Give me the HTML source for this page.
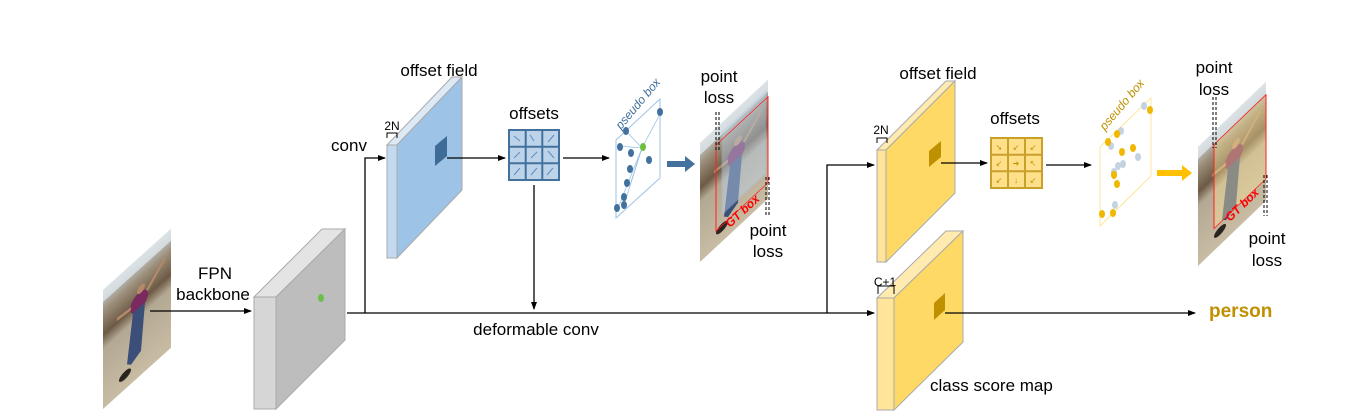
<!DOCTYPE html>
<html><head><meta charset="utf-8"><style>
html,body{margin:0;padding:0;background:#fff;}
svg{display:block;}
text{font-family:"Liberation Sans",sans-serif;}
</style></head><body>
<svg width="1367" height="419" viewBox="0 0 1367 419" xmlns="http://www.w3.org/2000/svg">
<defs>
<marker id="ah" markerWidth="8" markerHeight="8" refX="7" refY="4" orient="auto" markerUnits="userSpaceOnUse">
<path d="M0,1 L8,4 L0,7 z" fill="#000"/></marker>
<linearGradient id="sky" x1="0" y1="0" x2="0" y2="1">
<stop offset="0" stop-color="#c9d3dc"/><stop offset="0.18" stop-color="#9c8f7a"/>
<stop offset="0.38" stop-color="#6d5a45"/><stop offset="0.5" stop-color="#b3a893"/>
<stop offset="1" stop-color="#c8bca4"/></linearGradient>
<g id="photo">
<rect x="0" y="0" width="68" height="119" fill="url(#sky)"/>
<rect x="0" y="0" width="68" height="12" fill="#dfe6ea" opacity="0.8"/>
<ellipse cx="36" cy="44" rx="9" ry="9" fill="#7a2a5e"/>
<path d="M30,50 L42,50 L38,95 L28,100 L24,96 Z" fill="#3c4f78"/>
<circle cx="38" cy="33" r="4" fill="#b58a6a"/>
<path d="M44,40 L62,24" stroke="#b58a6a" stroke-width="3"/>
<path d="M28,44 L14,42" stroke="#b58a6a" stroke-width="3"/>
<ellipse cx="22" cy="105" rx="6" ry="4" fill="#2a2420"/>
</g>
</defs>

<!-- input photo -->
<use href="#photo" transform="matrix(1,-0.9,0,1,103,290)"/>

<!-- gray backbone box -->
<polygon points="254,297 322,229 345,229 276,297" fill="#e4e4e4" stroke="#aaa" stroke-width="1"/>
<polygon points="276,297 345,229 345,340 276,409" fill="#bdbdbd" stroke="#aaa" stroke-width="1"/>
<rect x="254" y="297" width="22" height="112" fill="#d6d6d6" stroke="#aaa" stroke-width="1"/>
<ellipse cx="321" cy="298" rx="3" ry="4" fill="#6cc04a"/>

<text x="215" y="279" font-size="17" text-anchor="middle">FPN</text>
<text x="213" y="300" font-size="17" text-anchor="middle">backbone</text>
<line x1="150" y1="311" x2="251" y2="311" stroke="#000" stroke-width="1.3" marker-end="url(#ah)"/>

<!-- main lines -->
<line x1="347" y1="313" x2="874" y2="313" stroke="#000" stroke-width="1.3" marker-end="url(#ah)"/>
<polyline points="365,313 365,158 385,158" fill="none" stroke="#000" stroke-width="1.3" marker-end="url(#ah)"/>
<text x="349" y="151" font-size="17" text-anchor="middle">conv</text>
<text x="536" y="335" font-size="17" text-anchor="middle">deformable conv</text>

<!-- blue offset field -->
<polygon points="387,145 452,77 462,77 397,145" fill="#dde9f5" stroke="#aaa" stroke-width="1"/>
<polygon points="397,145 462,77 462,190 397,258" fill="#9dc3e6" stroke="#aaa" stroke-width="1"/>
<rect x="387" y="145" width="10" height="113" fill="#c3d9ef" stroke="#aaa" stroke-width="1"/>
<polygon points="435,146 447,136 447,156 435,166" fill="#3f6b97"/>
<text x="439" y="76" font-size="17" text-anchor="middle">offset field</text>
<text x="392" y="130" font-size="12" text-anchor="middle">2N</text>
<polyline points="387,138 387,133 397,133 397,138" fill="none" stroke="#000" stroke-width="1"/>
<line x1="447" y1="158" x2="505" y2="158" stroke="#000" stroke-width="1.3" marker-end="url(#ah)"/>

<!-- blue offsets grid -->
<text x="534" y="119" font-size="17" text-anchor="middle">offsets</text>
<g stroke="#41719c" stroke-width="2" fill="#bcd3ea">
<rect x="509" y="130" width="50" height="50"/>
<line x1="525.7" y1="130" x2="525.7" y2="180"/><line x1="542.3" y1="130" x2="542.3" y2="180"/>
<line x1="509" y1="146.7" x2="559" y2="146.7"/><line x1="509" y1="163.3" x2="559" y2="163.3"/>
</g>
<g stroke="#5b8ec2" stroke-width="1">
<line x1="520" y1="141" x2="514" y2="136"/><line x1="534" y1="141" x2="530" y2="135"/><line x1="548" y1="142" x2="554" y2="135"/>
<line x1="520" y1="152" x2="514" y2="158"/><line x1="537" y1="152" x2="531" y2="158"/><line x1="548" y1="151" x2="554" y2="158"/>
<line x1="520" y1="168" x2="514" y2="175"/><line x1="537" y1="168" x2="531" y2="175"/><line x1="553" y1="168" x2="547" y2="175"/>
</g>
<line x1="534" y1="185" x2="534" y2="309" stroke="#000" stroke-width="1.3" marker-end="url(#ah)"/>
<line x1="563" y1="158" x2="609" y2="158" stroke="#000" stroke-width="1.3" marker-end="url(#ah)"/>

<!-- blue pseudo box -->
<polygon points="616,140 660,99 660,178 616,218" fill="none" stroke="#9dc3e6" stroke-width="1"/>
<text x="0" y="0" font-size="12" font-style="italic" fill="#41719c" transform="translate(621,130) rotate(-50)">pseudo box</text>
<g stroke="#9dc3e6" stroke-width="0.8">
<line x1="642" y1="148" x2="660" y2="114"/><line x1="642" y1="148" x2="626" y2="131"/><line x1="642" y1="148" x2="620" y2="146"/>
<line x1="642" y1="148" x2="618" y2="208"/><line x1="642" y1="148" x2="624" y2="205"/><line x1="642" y1="148" x2="630" y2="185"/>
</g>
<g fill="#41719c">
<ellipse cx="660" cy="112" rx="3" ry="4"/><ellipse cx="626" cy="131" rx="3" ry="4"/><ellipse cx="620" cy="147" rx="3" ry="4"/>
<ellipse cx="631" cy="153" rx="3" ry="4"/><ellipse cx="649" cy="160" rx="3" ry="4"/><ellipse cx="630" cy="169" rx="3" ry="4"/>
<ellipse cx="627" cy="183" rx="3" ry="4"/><ellipse cx="624" cy="197" rx="3" ry="4"/><ellipse cx="617" cy="208" rx="3" ry="4"/><ellipse cx="624" cy="205" rx="3" ry="4"/>
</g>
<ellipse cx="643" cy="147" rx="3" ry="4" fill="#70c040"/>
<polygon points="667,161 685,161 685,156 695,164 685,172 685,167 667,167" fill="#41719c"/>

<!-- photo 2 -->
<use href="#photo" transform="matrix(1,-0.93,0,1,700,143)"/>
<g transform="matrix(1,-0.93,0,1,700,143)">
<rect x="22" y="10" width="44" height="82" fill="#bcd3ea" opacity="0.45" stroke="#9dc3e6" stroke-width="1"/>
<rect x="16" y="17" width="52" height="86" fill="none" stroke="#ff2020" stroke-width="1"/>
</g>
<text x="0" y="0" font-size="12" font-style="italic" font-weight="bold" fill="#ff0000" transform="translate(730,228) rotate(-43)">GT box</text>
<line x1="716" y1="112" x2="716" y2="150" stroke="#000" stroke-dasharray="3,2" stroke-width="1"/>
<line x1="719" y1="112" x2="719" y2="150" stroke="#000" stroke-dasharray="3,2" stroke-width="1"/>
<line x1="766" y1="177" x2="766" y2="216" stroke="#000" stroke-dasharray="3,2" stroke-width="1"/>
<line x1="769" y1="177" x2="769" y2="216" stroke="#000" stroke-dasharray="3,2" stroke-width="1"/>
<text x="719" y="82" font-size="17" text-anchor="middle">point</text>
<text x="719" y="103" font-size="17" text-anchor="middle">loss</text>
<text x="768" y="236" font-size="17" text-anchor="middle">point</text>
<text x="768" y="257" font-size="17" text-anchor="middle">loss</text>

<!-- right branch -->
<polyline points="827,313 827,165 874,165" fill="none" stroke="#000" stroke-width="1.3" marker-end="url(#ah)"/>

<!-- yellow offset field -->
<polygon points="877,150 946,81 955,81 886,150" fill="#ffeab0" stroke="#aaa" stroke-width="1"/>
<polygon points="886,150 955,81 955,193 886,262" fill="#ffd966" stroke="#aaa" stroke-width="1"/>
<rect x="877" y="150" width="9" height="112" fill="#ffe49a" stroke="#aaa" stroke-width="1"/>
<polygon points="929,151 941,141 941,157 929,167" fill="#bf9000"/>
<text x="938" y="79" font-size="17" text-anchor="middle">offset field</text>
<text x="881" y="134" font-size="12" text-anchor="middle">2N</text>
<polyline points="877,143 877,138 887,138 887,143" fill="none" stroke="#000" stroke-width="1"/>
<line x1="941" y1="163" x2="987" y2="163" stroke="#000" stroke-width="1.3" marker-end="url(#ah)"/>

<!-- yellow offsets grid -->
<text x="1015" y="124" font-size="17" text-anchor="middle">offsets</text>
<g stroke="#c8a02a" stroke-width="2" fill="#ffe08a">
<rect x="991" y="138" width="51" height="50"/>
<line x1="1008" y1="138" x2="1008" y2="188"/><line x1="1025" y1="138" x2="1025" y2="188"/>
<line x1="991" y1="154.7" x2="1042" y2="154.7"/><line x1="991" y1="171.3" x2="1042" y2="171.3"/>
</g>
<g fill="#bf9000" font-size="8" text-anchor="middle">
<text x="999" y="150">➘</text><text x="1016" y="150">↙</text><text x="1033" y="150">↙</text>
<text x="999" y="166">↙</text><text x="1016" y="166">➔</text><text x="1033" y="166">↖</text>
<text x="999" y="183">↙</text><text x="1016" y="183">↓</text><text x="1033" y="183">↙</text>
</g>
<line x1="1046" y1="165" x2="1091" y2="165" stroke="#000" stroke-width="1.3" marker-end="url(#ah)"/>

<!-- yellow pseudo box -->
<polygon points="1100,147 1151,98 1151,176 1100,226" fill="none" stroke="#ffe699" stroke-width="1"/>
<text x="0" y="0" font-size="12" font-style="italic" fill="#bf9000" transform="translate(1105,131) rotate(-50)">pseudo box</text>
<g fill="#c5d3e0">
<ellipse cx="1111" cy="146" rx="3" ry="4"/><ellipse cx="1121" cy="131" rx="3" ry="4"/><ellipse cx="1123" cy="164" rx="3" ry="4"/>
<ellipse cx="1138" cy="157" rx="3" ry="4"/><ellipse cx="1118" cy="166" rx="3" ry="4"/><ellipse cx="1115" cy="205" rx="3" ry="4"/>
<ellipse cx="1114" cy="172" rx="3" ry="4"/><ellipse cx="1144" cy="106" rx="3" ry="4"/>
</g>
<g fill="#f0b800">
<ellipse cx="1108" cy="142" rx="3" ry="4"/><ellipse cx="1117" cy="134" rx="3" ry="4"/><ellipse cx="1122" cy="152" rx="3" ry="4"/>
<ellipse cx="1133" cy="148" rx="3" ry="4"/><ellipse cx="1114" cy="175" rx="3" ry="4"/><ellipse cx="1117" cy="184" rx="3" ry="4"/>
<ellipse cx="1102" cy="214" rx="3" ry="4"/><ellipse cx="1113" cy="213" rx="3" ry="4"/><ellipse cx="1150" cy="110" rx="3" ry="4"/>
</g>
<polygon points="1157,170 1182,170 1182,165 1192,173 1182,181 1182,176 1157,176" fill="#ffc000"/>

<!-- photo 3 -->
<use href="#photo" transform="matrix(1,-0.96,0,1,1198,147)"/>
<g transform="matrix(1,-0.96,0,1,1198,147)">
<rect x="16" y="13" width="52" height="84" fill="#ffe699" opacity="0.4"/>
<rect x="16" y="13" width="52" height="84" fill="none" stroke="#ff2020" stroke-width="1"/>
</g>
<text x="0" y="0" font-size="12" font-style="italic" font-weight="bold" fill="#ff0000" transform="translate(1230,222) rotate(-44)">GT box</text>
<line x1="1213" y1="97" x2="1213" y2="148" stroke="#000" stroke-dasharray="3,2" stroke-width="1"/>
<line x1="1216" y1="97" x2="1216" y2="148" stroke="#000" stroke-dasharray="3,2" stroke-width="1"/>
<line x1="1264" y1="175" x2="1264" y2="216" stroke="#000" stroke-dasharray="3,2" stroke-width="1"/>
<line x1="1267" y1="175" x2="1267" y2="216" stroke="#000" stroke-dasharray="3,2" stroke-width="1"/>
<text x="1214" y="73" font-size="17" text-anchor="middle">point</text>
<text x="1214" y="95" font-size="17" text-anchor="middle">loss</text>
<text x="1267" y="244" font-size="17" text-anchor="middle">point</text>
<text x="1267" y="266" font-size="17" text-anchor="middle">loss</text>

<!-- class score map -->
<polygon points="877,298 946,231 963,231 894,298" fill="#ffeab0" stroke="#aaa" stroke-width="1"/>
<polygon points="894,298 963,231 963,342 894,410" fill="#ffd966" stroke="#aaa" stroke-width="1"/>
<rect x="877" y="298" width="17" height="112" fill="#ffe49a" stroke="#aaa" stroke-width="1"/>
<polygon points="934,303 945,293 945,310 934,320" fill="#bf9000"/>
<text x="885" y="286" font-size="12" text-anchor="middle">C+1</text>
<polyline points="878,294 878,286 894,286 894,294" fill="none" stroke="#000" stroke-width="1"/>
<line x1="945" y1="313" x2="1195" y2="313" stroke="#000" stroke-width="1.3" marker-end="url(#ah)"/>
<text x="1209" y="317" font-size="19" font-weight="bold" fill="#c09000">person</text>
<text x="930" y="391" font-size="17">class score map</text>
</svg>
</body></html>
